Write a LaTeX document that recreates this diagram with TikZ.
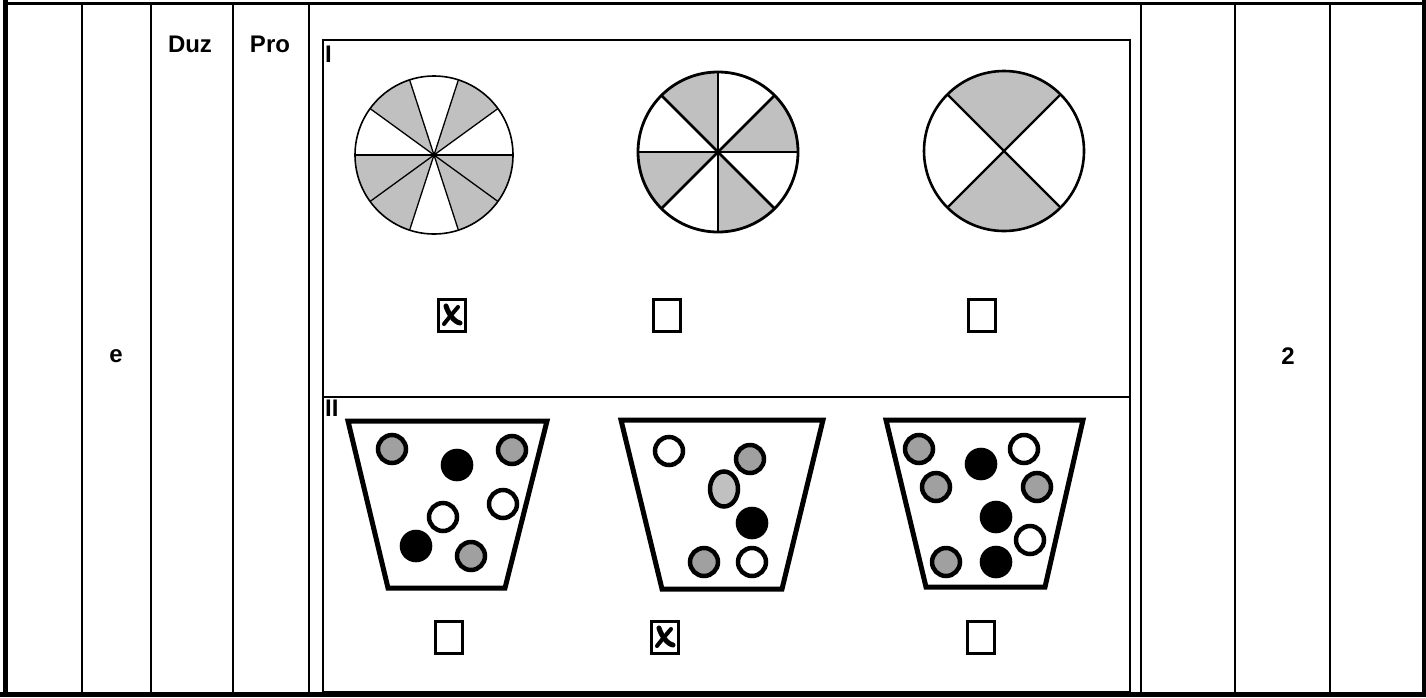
\documentclass[tikz,border=0pt]{standalone}
\usepackage{fontspec}
\setmainfont{Liberation Sans}
\begin{document}
\begin{tikzpicture}[x=1pt,y=-1pt,
  rule/.style={line width=2.2pt},
  heavy/.style={line width=5pt},
  lbl/.style={font=\fontsize{24}{27}\selectfont\bfseries, inner sep=0pt},
  piegray/.style={fill=pieg},
  ballg/.style={draw=black, line width=4.5pt, fill=ballgc},
  ballw/.style={draw=black, line width=4.5pt, fill=white},
  ballb/.style={fill=black},
  bucket/.style={draw=black, line width=5pt, line join=miter},
  chk/.style={draw=black, line width=3pt, minimum width=27pt, minimum height=32pt, inner sep=0pt},
  xmark/.style={line width=5pt, line cap=round}
]
\definecolor{pieg}{HTML}{C0C0C0}
\definecolor{ballgc}{HTML}{A0A0A0}
\useasboundingbox (0,0) rectangle (1426,697);
\fill[white] (0,0) rectangle (1426,697);

% outer frame
\draw[line width=3pt] (3,3) -- (1424,3);
\draw[heavy] (5.5,0) -- (5.5,697);
\draw[line width=4pt] (1424,0) -- (1424,697);
\draw[heavy] (0,694.5) -- (1426,694.5);
% column rules
\foreach \cx in {82,151,233,309,1141,1235,1330}
  \draw[rule] (\cx,3) -- (\cx,694);
% inner box
\draw[line width=2.5pt] (323,40) rectangle (1130,692);
\draw[line width=2.5pt] (323,397) -- (1130,397);

% texts
\node[lbl] (duz) at (190,44) {Duz};
\node[lbl] (pro) at (270,44) {Pro};
\node[lbl] (e) at (116,356) {e};
\node[lbl] (two) at (1288,356) {2};
\node[lbl, anchor=north west] (lI) at (325,46) {I};
\node[lbl, anchor=north west] (lII) at (325,400) {II};

% pie 1 (10 sectors)
\begin{scope}[shift={(434,155)}, x=1pt, y=1pt]
  \foreach \a/\b in {36/72,108/144,180/252,288/360}
    \fill[piegray] (0,0) -- (\a:79) arc (\a:\b:79) -- cycle;
  \foreach \a in {36,72,108,144,216,252,288,324}
    \draw[line width=1.3pt] (0,0) -- (\a:79);
  \draw[line width=1.8pt] (-79,0) -- (79,0);
  \draw[line width=1.6pt] (0,0) circle (79);
  \fill (0,0) circle (2.5);
\end{scope}
% pie 2 (8 sectors)
\begin{scope}[shift={(718,152)}, x=1pt, y=1pt]
  \foreach \a/\b in {0/45,90/135,180/225,270/315}
    \fill[piegray] (0,0) -- (\a:80) arc (\a:\b:80) -- cycle;
  \foreach \a in {0,45,...,315}
    \draw[line width=2.8pt] (0,0) -- (\a:80);
  \draw[line width=2.8pt] (0,0) circle (80);
\end{scope}
% pie 3 (4 sectors)
\begin{scope}[shift={(1004,151)}, x=1pt, y=1pt]
  \foreach \a/\b in {45/135,225/315}
    \fill[piegray] (0,0) -- (\a:80) arc (\a:\b:80) -- cycle;
  \foreach \a in {45,135,225,315}
    \draw[line width=2.4pt] (0,0) -- (\a:80);
  \draw[line width=2.6pt] (0,0) circle (80);
\end{scope}

% checkboxes row I
\node[chk] (c11) at (452,315) {};
\node[chk] (c12) at (667,315) {};
\node[chk] (c13) at (982,315) {};
% checkboxes row II
\node[chk] (c21) at (449,637) {};
\node[chk] (c22) at (665,637) {};
\node[chk] (c23) at (981,637) {};
% x marks
\foreach \c in {c11,c22}{
  \draw[xmark] ([shift={(-6,-9)}]\c.center) .. controls ([shift={(-4,-2)}]\c.center) and ([shift={(2,7)}]\c.center) .. ([shift={(8,8)}]\c.center);
  \draw[line width=4pt, line cap=round] ([shift={(6,-8)}]\c.center) .. controls ([shift={(0,-1)}]\c.center) and ([shift={(-5,5)}]\c.center) .. ([shift={(-8,9)}]\c.center);
}

% buckets
\draw[bucket] (348,421) -- (547,421) -- (505,588) -- (388,588) -- cycle;
\draw[bucket] (621,420) -- (823,420) -- (782,589) -- (662,589) -- cycle;
\draw[bucket] (886,420) -- (1083,420) -- (1045,587) -- (926,587) -- cycle;

% bucket 1 balls
\draw[ballg] (392,449) circle (14);
\fill[ballb] (457,465) circle (16.3);
\draw[ballg] (512,450) circle (14);
\draw[ballw] (503,504) circle (14);
\draw[ballw] (443,517) circle (14);
\fill[ballb] (416,546) circle (16.3);
\draw[ballg] (471,556) circle (14);
% bucket 2 balls
\draw[ballw] (669,451) circle (14);
\draw[ballg] (750,459) circle (14);
\draw[draw=black, line width=4.5pt, fill=pieg] (724,489) ellipse (14 and 17.5);
\fill[ballb] (752,523) circle (16.3);
\draw[ballg] (704,562) circle (14);
\draw[ballw] (752,562) circle (14);
% bucket 3 balls
\draw[ballg] (919,449) circle (14);
\fill[ballb] (981,464) circle (16.3);
\draw[ballw] (1024,449) circle (14);
\draw[ballg] (936,487) circle (14);
\draw[ballg] (1037,487) circle (14);
\fill[ballb] (996,517) circle (16.3);
\draw[ballw] (1030,540) circle (14);
\draw[ballg] (946,562) circle (14);
\fill[ballb] (996,562) circle (16.3);
\end{tikzpicture}
\end{document}
